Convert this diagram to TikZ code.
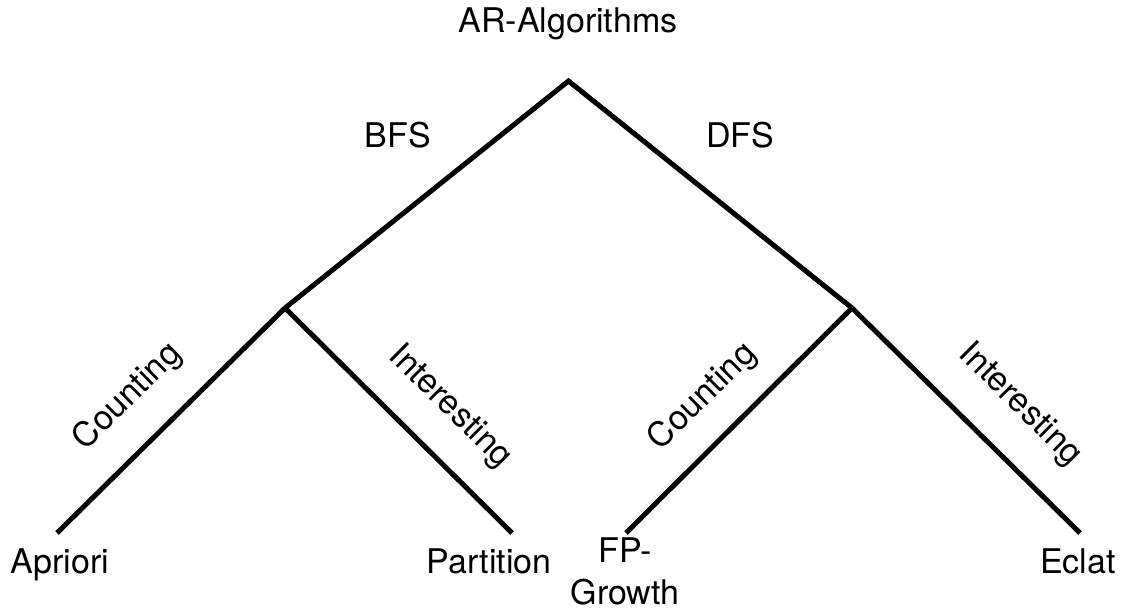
\documentclass[tikz,border=0pt]{standalone}
\usepackage{fontspec}
\setmainfont{TeX Gyre Heros}
\begin{document}
\begin{tikzpicture}[x=1pt,y=-1pt,
  branch/.style={line width=5pt, line join=miter, line cap=butt},
  lbl/.style={inner sep=0pt, font=\fontsize{34}{42}\selectfont},
  leaf/.style={lbl, anchor=base},
  edgelbl/.style={lbl, anchor=center},
]
\useasboundingbox (0,0) rectangle (1123,607);

% tree junctions and leaf ends
\coordinate (top)  at (568.5,81);
\coordinate (bfs)  at (285,308);
\coordinate (dfs)  at (852,308);
\coordinate (endA) at (57,533);
\coordinate (endP) at (512,533);
\coordinate (endF) at (626,533);
\coordinate (endE) at (1080,533);

% titles
\node[leaf] (root) at (568,33) {AR-Algorithms};
\node[leaf] (lbfs) at (398,147) {BFS};
\node[leaf] (ldfs) at (740,147) {DFS};

% leaves
\node[leaf] (apriori)   at (60,573)   {Apriori};
\node[leaf] (partition) at (489,573)  {Partition};
\node[lbl, anchor=north, align=center] (fpgrowth) at (625,537.8) {FP-\\Growth};
\node[leaf] (eclat)     at (1078,573) {Eclat};

% branches
\draw[branch] (bfs) -- (top) -- (dfs);
\draw[branch] (bfs) -- (endA);
\draw[branch] (bfs) -- (endP);
\draw[branch] (dfs) -- (endF);
\draw[branch] (dfs) -- (endE);

% branch labels
\node[edgelbl, rotate=44.6]  (cnt1) at (128,397)  {Counting};
\node[edgelbl, rotate=-44.7] (int1) at (450,407)  {Interesting};
\node[edgelbl, rotate=44.6]  (cnt2) at (703,397)  {Counting};
\node[edgelbl, rotate=-44.7] (int2) at (1020,405) {Interesting};
\end{tikzpicture}
\end{document}
